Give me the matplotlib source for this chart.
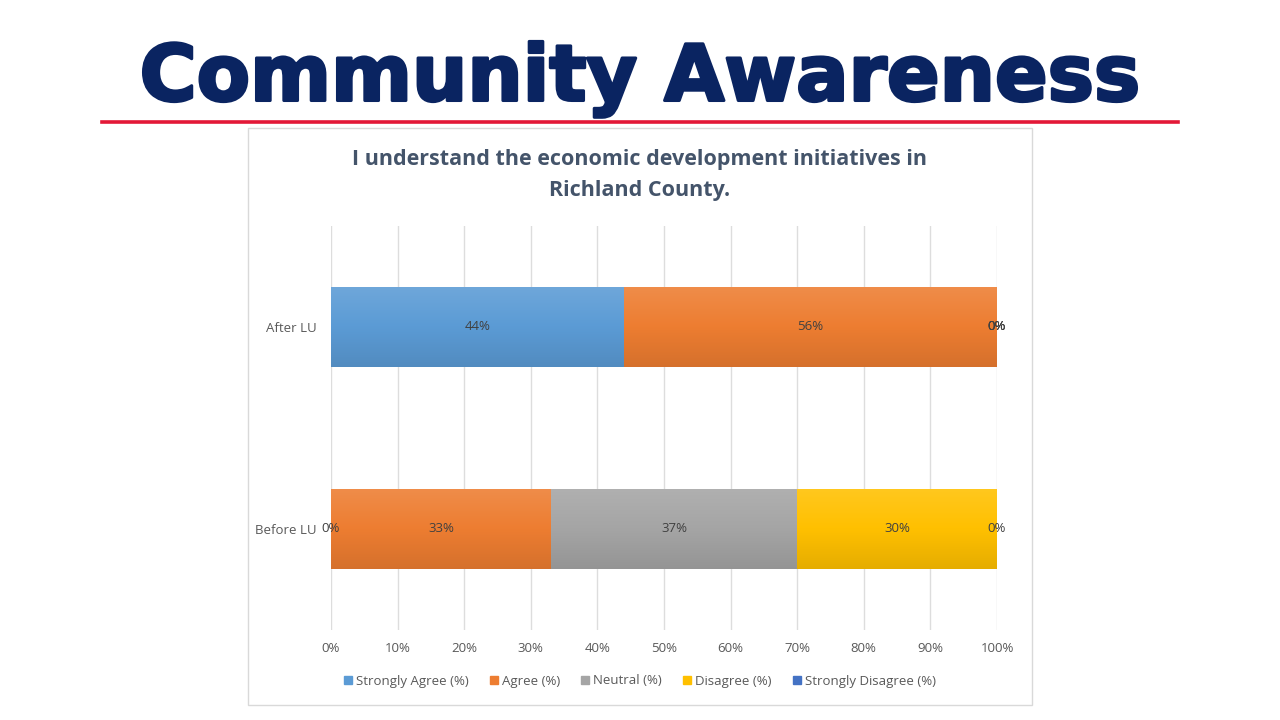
import matplotlib
matplotlib.use("Agg")
import matplotlib.pyplot as plt
import matplotlib.patheffects as pe
import numpy as np
from matplotlib.colors import to_rgb, LinearSegmentedColormap
from matplotlib.patches import Rectangle
from matplotlib.lines import Line2D

categories = ["Before LU", "After LU"]
series_names = ["Strongly Agree (%)", "Agree (%)", "Neutral (%)", "Disagree (%)", "Strongly Disagree (%)"]
strongly_agree = [0, 44]
agree = [33, 56]
neutral = [37, 0]
disagree = [30, 0]
strongly_disagree = [0, 0]
xticks = [0, 10, 20, 30, 40, 50, 60, 70, 80, 90, 100]

colors = ["#5B9BD5", "#ED7D31", "#A5A5A5", "#FFC000", "#4472C4"]
values = [strongly_agree, agree, neutral, disagree, strongly_disagree]

fig = plt.figure(figsize=(12.8, 7.2), dpi=100)
fig.patch.set_facecolor("white")

# Slide title (scaled to the reference width)
title = fig.text(0.5, 1 - 79 / 720, "Community Awareness", ha="center", va="center",
                 fontsize=56, fontweight="bold", family="DejaVu Sans", color="#0A2461",
                 path_effects=[pe.withStroke(linewidth=2.2, foreground="#0A2461")])
renderer = fig.canvas.get_renderer()
w = title.get_window_extent(renderer).width
title.set_fontsize(56 * 1000 / w)

fig.add_artist(Line2D([102 / 1280, 1178 / 1280], [1 - 121.5 / 720] * 2,
                      color="#E31837", lw=2.6, transform=fig.transFigure))
# chart frame
fig.add_artist(Rectangle((248 / 1280, 1 - 705 / 720), (1032 - 248) / 1280, (705 - 128) / 720,
                         transform=fig.transFigure, fill=False, edgecolor="#D9D9D9", lw=1))

fig.text(640 / 1280, 1 - 175 / 720,
         "I understand the economic development initiatives in\nRichland County.",
         ha="center", va="center", fontsize=15.5, fontweight="bold", family="Open Sans",
         color="#44546A", linespacing=1.6)

ax = fig.add_axes([331 / 1280, 1 - 630 / 720, (997 - 331) / 1280, (630 - 226) / 720])
y = np.arange(len(categories))
left = np.zeros(len(categories))
containers = []
for name, vals, c in zip(series_names, values, colors):
    bars = ax.barh(y, vals, left=left, height=0.4, color=c, label=name, zorder=2)
    containers.append(bars)
    left = left + np.array(vals)

# gradient overlay for each bar
for bars, c in zip(containers, colors):
    rgb = np.array(to_rgb(c))
    top = rgb + (1 - rgb) * 0.12
    bot = rgb * 0.90
    cmap = LinearSegmentedColormap.from_list("g", [bot, rgb, top])
    for p in bars:
        if p.get_width() <= 0:
            continue
        x0, y0, w, h = p.get_x(), p.get_y(), p.get_width(), p.get_height()
        grad = np.linspace(0, 1, 100).reshape(-1, 1)
        im = ax.imshow(grad, extent=[x0, x0 + w, y0, y0 + h], origin="lower",
                       cmap=cmap, aspect="auto", zorder=2.5)
        im.set_clip_path(p)

for bars in containers:
    ax.bar_label(bars, labels=[f"{v:g}%" for v in bars.datavalues], label_type="center",
                 fontsize=9.5, color="#404040", family="Open Sans", zorder=4)

ax.set_xlim(0, 100)
ax.set_ylim(-0.5, 1.5)
ax.set_xticks(xticks)
ax.set_xticklabels([f"{t}%" for t in xticks])
ax.set_yticks(y)
ax.set_yticklabels(categories)
ax.tick_params(axis="both", length=0, labelsize=9.5, labelcolor="#595959")
ax.tick_params(axis="x", pad=9)
ax.tick_params(axis="y", pad=10)
for lab in ax.get_xticklabels() + ax.get_yticklabels():
    lab.set_family("Open Sans")
ax.grid(axis="x", color="#DDDDDD", lw=1, zorder=0)
ax.set_axisbelow(True)
for s in ax.spines.values():
    s.set_visible(False)

handles = [Rectangle((0, 0), 1, 1, color=c) for c in colors]
fig.legend(handles, series_names, loc="center", bbox_to_anchor=(640 / 1280, 1 - 681 / 720),
           ncol=5, frameon=False, handlelength=0.6, handleheight=0.6, handletextpad=0.3,
           columnspacing=1.6, prop={"family": "Open Sans", "size": 9.5}, labelcolor="#595959")

fig.savefig("out.png", dpi=100)
